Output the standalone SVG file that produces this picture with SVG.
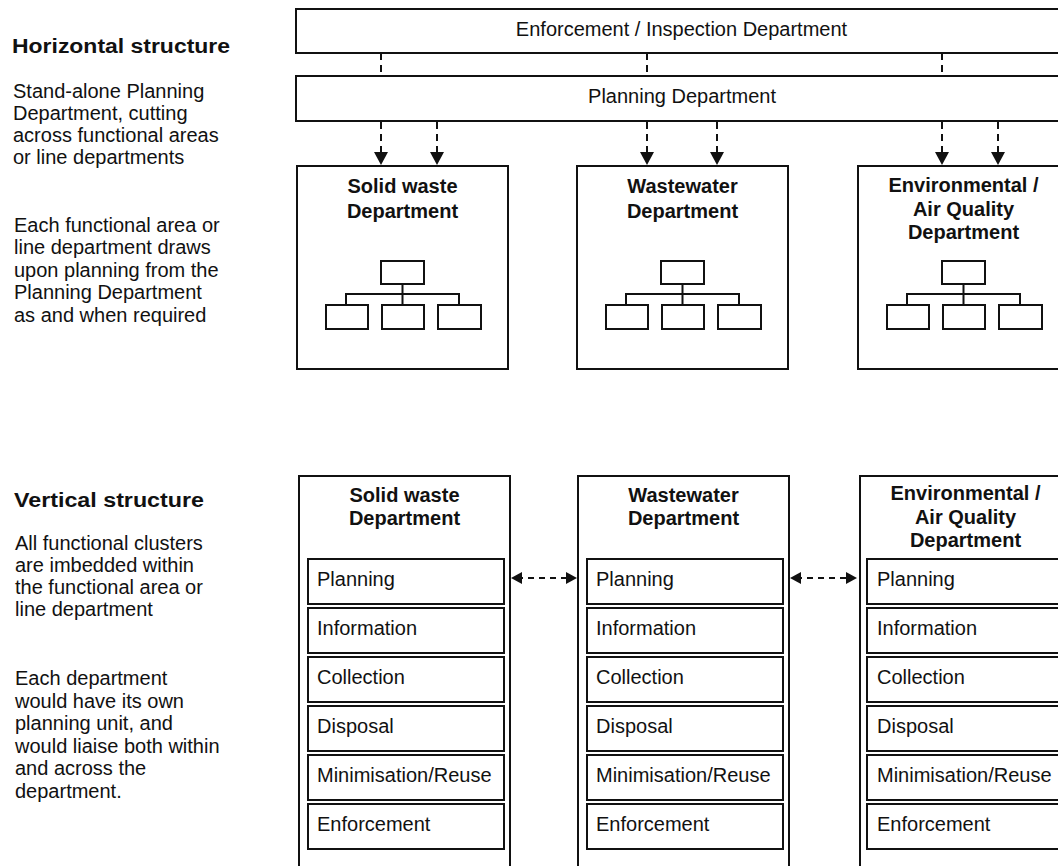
<svg xmlns="http://www.w3.org/2000/svg" width="1058" height="866" viewBox="0 0 1058 866">
<style>
  text { font-family: "Liberation Sans", Arial, sans-serif; fill: #111; }
  .t { font-size: 20px; }
  .b { font-size: 20px; font-weight: bold; }
  .c { text-anchor: middle; }
  .box { fill: #fff; stroke: #111; stroke-width: 2; }
  .ibox { fill: none; stroke: #111; stroke-width: 2; }
  .dash { fill: none; stroke: #111; stroke-width: 2; stroke-dasharray: 7 5; }
  .hdash { fill: none; stroke: #111; stroke-width: 2; stroke-dasharray: 6 5; }
  .org { fill: none; stroke: #111; stroke-width: 2; }
</style>
<defs>
  <marker id="ah" markerUnits="userSpaceOnUse" markerWidth="14" markerHeight="14" refX="6" refY="7" orient="auto">
    <path d="M0,0 L13,7 L0,14 z" fill="#111"/>
  </marker>
  <marker id="ahs" markerUnits="userSpaceOnUse" markerWidth="12" markerHeight="12" refX="5" refY="6" orient="auto-start-reverse">
    <path d="M0,0 L11,6 L0,12 z" fill="#111"/>
  </marker>
  <g id="orgchart" class="org">
    <rect x="84" y="0" width="43" height="23"/>
    <path d="M105.5 23 V44 M49 44 V33 H162 V44"/>
    <rect x="29" y="44" width="42" height="24"/>
    <rect x="85" y="44" width="42" height="24"/>
    <rect x="141" y="44" width="43" height="24"/>
  </g>
</defs>
<rect width="1058" height="866" fill="#fff"/>

<!-- left text -->
<g id="horizontal-text">
  <text class="b" x="12" y="53" textLength="218" lengthAdjust="spacingAndGlyphs">Horizontal structure</text>
  <text class="t" x="13" y="98">Stand-alone Planning</text>
  <text class="t" x="13" y="120">Department, cutting</text>
  <text class="t" x="13" y="142">across functional areas</text>
  <text class="t" x="13" y="163.5">or line departments</text>
  <text class="t" x="14" y="232">Each functional area or</text>
  <text class="t" x="14" y="254">line department draws</text>
  <text class="t" x="14" y="276.5">upon planning from the</text>
  <text class="t" x="14" y="299">Planning Department</text>
  <text class="t" x="14" y="321.5">as and when required</text>
</g>
<g id="vertical-text">
  <text class="b" x="14" y="507" textLength="190" lengthAdjust="spacingAndGlyphs">Vertical structure</text>
  <text class="t" x="15" y="550">All functional clusters</text>
  <text class="t" x="15" y="572">are imbedded within</text>
  <text class="t" x="15" y="594">the functional area or</text>
  <text class="t" x="15" y="616">line department</text>
  <text class="t" x="15" y="685">Each department</text>
  <text class="t" x="15" y="707.5">would have its own</text>
  <text class="t" x="15" y="730">planning unit, and</text>
  <text class="t" x="15" y="752.5">would liaise both within</text>
  <text class="t" x="15" y="775">and across the</text>
  <text class="t" x="15" y="797.5">department.</text>
</g>

<!-- top bars -->
<g id="enforcement-dept">
  <rect class="box" x="296" y="9" width="771" height="44"/>
  <text class="t c" x="681.5" y="36">Enforcement / Inspection Department</text>
</g>
<g id="planning-dept">
  <rect class="box" x="296" y="76" width="771" height="45"/>
  <text class="t c" x="682" y="103">Planning Department</text>
</g>

<!-- horizontal structure departments -->
<g id="h-solid-waste">
  <rect class="box" x="297" y="166" width="211" height="203"/>
  <text class="b c" x="402.5" y="193">Solid waste</text>
  <text class="b c" x="402.5" y="218">Department</text>
  <use href="#orgchart" x="297" y="261"/>
</g>
<g id="h-wastewater">
  <rect class="box" x="577" y="166" width="211" height="203"/>
  <text class="b c" x="682.5" y="193">Wastewater</text>
  <text class="b c" x="682.5" y="218">Department</text>
  <use href="#orgchart" x="577" y="261"/>
</g>
<g id="h-environmental">
  <rect class="box" x="858" y="166" width="211" height="203"/>
  <text class="b c" x="963.5" y="192">Environmental /</text>
  <text class="b c" x="963.5" y="215.5">Air Quality</text>
  <text class="b c" x="963.5" y="239">Department</text>
  <use href="#orgchart" x="858" y="261"/>
</g>

<!-- vertical structure departments -->
<g id="v-solid-waste">
  <rect class="box" x="299" y="476" width="211" height="400"/>
  <text class="b c" x="404.5" y="502">Solid waste</text>
  <text class="b c" x="404.5" y="525">Department</text>
  <rect class="ibox" x="308" y="559" width="196" height="45"/>
  <rect class="ibox" x="308" y="608" width="196" height="45"/>
  <rect class="ibox" x="308" y="657" width="196" height="45"/>
  <rect class="ibox" x="308" y="706" width="196" height="45"/>
  <rect class="ibox" x="308" y="755" width="196" height="45"/>
  <rect class="ibox" x="308" y="804" width="196" height="45"/>
  <text class="t" x="317" y="586">Planning</text>
  <text class="t" x="317" y="635">Information</text>
  <text class="t" x="317" y="684">Collection</text>
  <text class="t" x="317" y="733">Disposal</text>
  <text class="t" x="317" y="782">Minimisation/Reuse</text>
  <text class="t" x="317" y="831">Enforcement</text>
</g>
<g id="v-wastewater">
  <rect class="box" x="578" y="476" width="211" height="400"/>
  <text class="b c" x="683.5" y="502">Wastewater</text>
  <text class="b c" x="683.5" y="525">Department</text>
  <rect class="ibox" x="587" y="559" width="196" height="45"/>
  <rect class="ibox" x="587" y="608" width="196" height="45"/>
  <rect class="ibox" x="587" y="657" width="196" height="45"/>
  <rect class="ibox" x="587" y="706" width="196" height="45"/>
  <rect class="ibox" x="587" y="755" width="196" height="45"/>
  <rect class="ibox" x="587" y="804" width="196" height="45"/>
  <text class="t" x="596" y="586">Planning</text>
  <text class="t" x="596" y="635">Information</text>
  <text class="t" x="596" y="684">Collection</text>
  <text class="t" x="596" y="733">Disposal</text>
  <text class="t" x="596" y="782">Minimisation/Reuse</text>
  <text class="t" x="596" y="831">Enforcement</text>
</g>
<g id="v-environmental">
  <rect class="box" x="860" y="476" width="211" height="400"/>
  <text class="b c" x="965.5" y="500">Environmental /</text>
  <text class="b c" x="965.5" y="523.5">Air Quality</text>
  <text class="b c" x="965.5" y="547">Department</text>
  <rect class="ibox" x="867" y="559" width="196" height="45"/>
  <rect class="ibox" x="867" y="608" width="196" height="45"/>
  <rect class="ibox" x="867" y="657" width="196" height="45"/>
  <rect class="ibox" x="867" y="706" width="196" height="45"/>
  <rect class="ibox" x="867" y="755" width="196" height="45"/>
  <rect class="ibox" x="867" y="804" width="196" height="45"/>
  <text class="t" x="877" y="586">Planning</text>
  <text class="t" x="877" y="635">Information</text>
  <text class="t" x="877" y="684">Collection</text>
  <text class="t" x="877" y="733">Disposal</text>
  <text class="t" x="877" y="782">Minimisation/Reuse</text>
  <text class="t" x="877" y="831">Enforcement</text>
</g>

<!-- connectors -->
<g id="connectors">
  <path class="dash" d="M381 53 V76 M647 53 V76 M942 53 V76"/>
  <path class="dash" d="M381 122 V158" marker-end="url(#ah)"/>
  <path class="dash" d="M437 122 V158" marker-end="url(#ah)"/>
  <path class="dash" d="M647 122 V158" marker-end="url(#ah)"/>
  <path class="dash" d="M717 122 V158" marker-end="url(#ah)"/>
  <path class="dash" d="M942 122 V158" marker-end="url(#ah)"/>
  <path class="dash" d="M998 122 V158" marker-end="url(#ah)"/>
  <path class="hdash" d="M517 578 H571" marker-start="url(#ahs)" marker-end="url(#ahs)"/>
  <path class="hdash" d="M796 578 H851" marker-start="url(#ahs)" marker-end="url(#ahs)"/>
</g>
</svg>
